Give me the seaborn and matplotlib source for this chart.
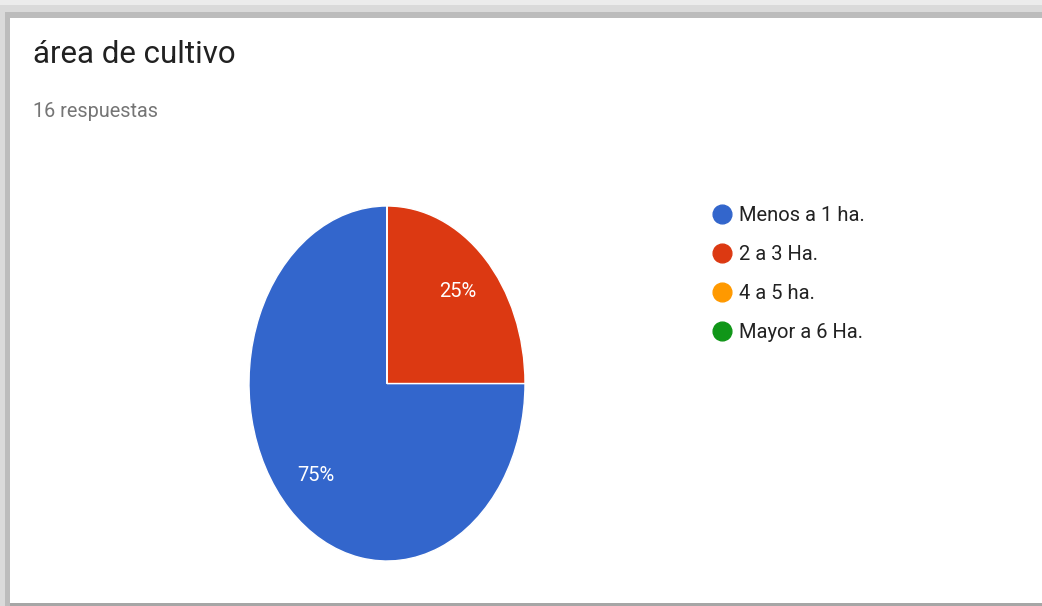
import matplotlib
matplotlib.use("Agg")
import matplotlib.pyplot as plt
from matplotlib.patches import Rectangle
from matplotlib.lines import Line2D
import seaborn as sns

# Survey results: cultivated area
title = "área de cultivo"
subtitle = "16 respuestas"
categories = ["Menos a 1 ha.", "2 a 3 Ha.", "4 a 5 ha.", "Mayor a 6 Ha."]
counts = [12, 4, 0, 0]
colors = ["#3366cc", "#dc3912", "#ff9900", "#109618"]

sns.set_theme(style="white")
plt.rcParams["font.family"] = ["Roboto", "DejaVu Sans"]

W, H = 1042, 606
fig = plt.figure(figsize=(W / 100, H / 100), dpi=100)
fig.patch.set_facecolor("#ececec")


def px_rect(x0, y0, x1, y1, color):
    """Rectangle given in pixel coordinates measured from the top-left."""
    fig.add_artist(Rectangle((x0 / W, 1 - y1 / H), (x1 - x0) / W, (y1 - y0) / H,
                             transform=fig.transFigure, facecolor=color,
                             edgecolor="none", zorder=0))


# card frame with a soft shadow
px_rect(0, 5, W, H, "#dadada")
px_rect(5, 12, W, H, "#bcbcbc")
px_rect(10, 18, W, H - 3, "#ffffff")
px_rect(10, H - 3, W, H, "#a6a6a6")

fig.text(33 / W, 1 - 63 / H, title, fontsize=22.5, color="#212121", va="baseline")
fig.text(33 / W, 1 - 117 / H, subtitle, fontsize=14.3, color="#757575", va="baseline")

# pie
ax = fig.add_axes([249 / W, 1 - 561 / H, 276 / W, 355 / H])
wedges, texts, autotexts = ax.pie(
    counts, colors=colors, startangle=90, counterclock=True,
    autopct=lambda p: f"{p:.0f}%" if p > 0 else "",
    pctdistance=0.73,
    wedgeprops=dict(edgecolor="white", linewidth=1.0),
    textprops=dict(color="white", fontsize=14.5),
)
ax.set_xlim(-1.0, 1.0)
ax.set_ylim(-1.0, 1.0)
ax.set_aspect("auto")
ax.axis("off")

# legend
handles = [Line2D([0], [0], marker="o", linestyle="none", markersize=13.5,
                  markerfacecolor=c, markeredgecolor=c) for c in colors]
fig.legend(handles, categories, loc="upper left",
           bbox_to_anchor=(710 / W, 1 - 206 / H), frameon=False,
           fontsize=14.5, labelspacing=0.99, handletextpad=0.26,
           handlelength=1.2, borderaxespad=0, borderpad=0,
           labelcolor="#222222")

fig.savefig("out.png", dpi=100)
